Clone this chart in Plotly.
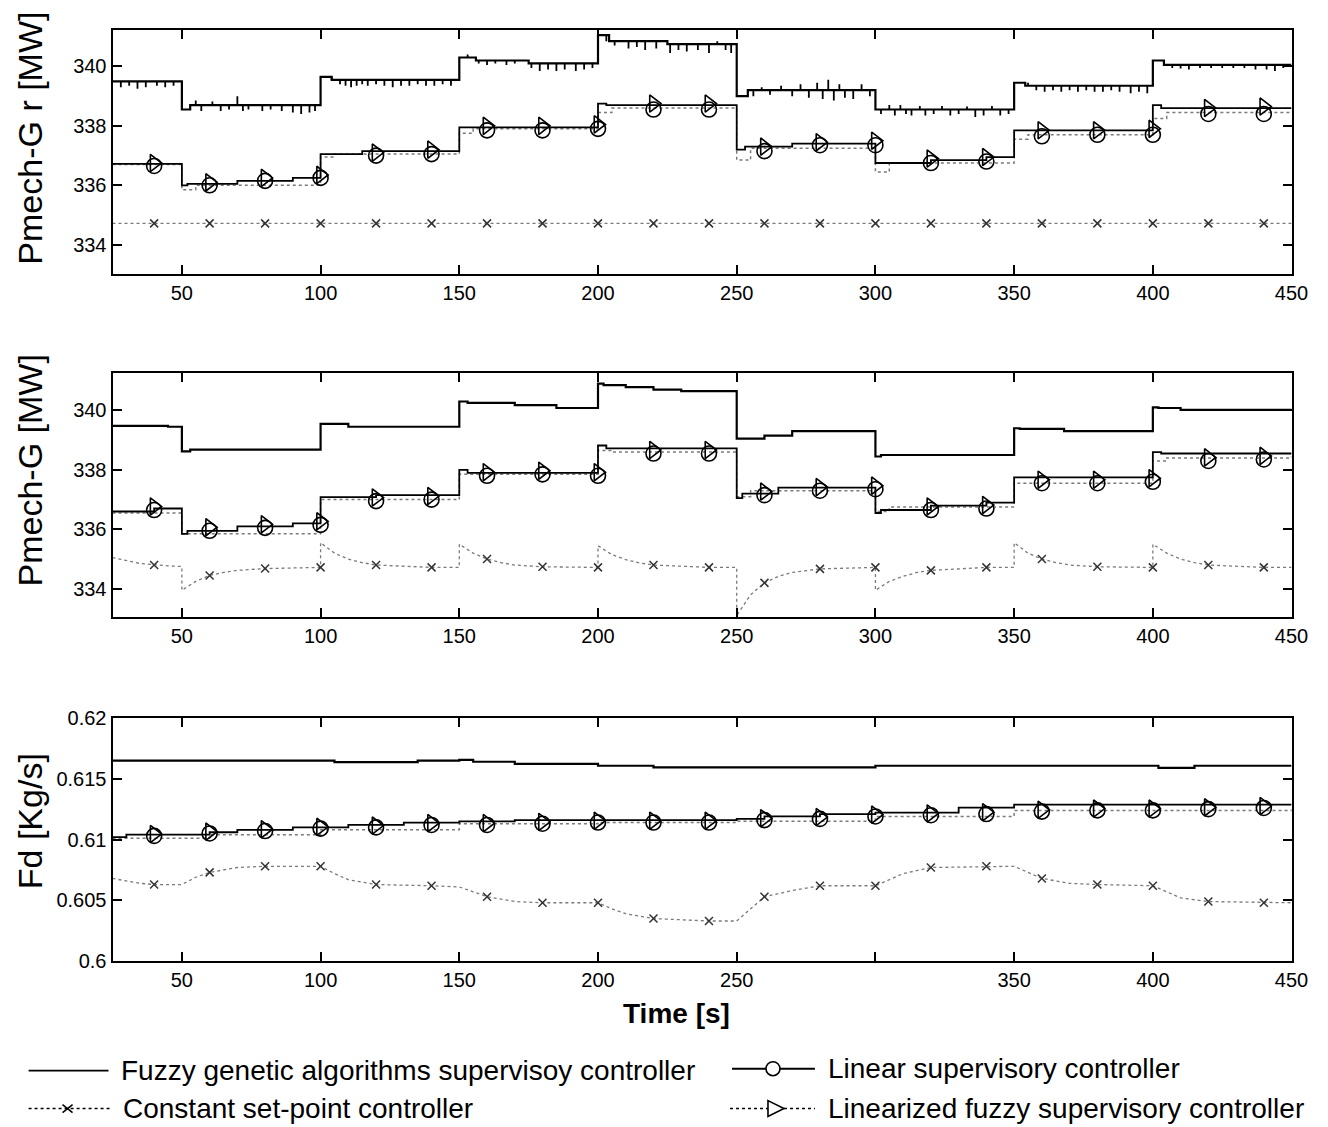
import plotly.graph_objects as go
import numpy as np

W, H = 1328, 1127
FONT = "Liberation Sans, Arial, sans-serif"

# ---------------- data ----------------
mk_t = [40, 60, 80, 100, 120, 140, 160, 180, 200, 220, 240, 260, 280, 300, 320, 340, 360, 380, 400, 420, 440]

# Panel 1: Pmech-G r
p1_ga_t = [25, 50, 53, 100, 104, 150, 156, 175, 200, 204, 225, 250, 254, 300, 350, 354, 400, 404, 450]
p1_ga_v = [339.5, 338.55, 338.7, 339.65, 339.55, 340.3, 340.2, 340.1, 341.05, 340.85, 340.75, 339.0, 339.2,
           338.55, 339.45, 339.35, 340.2, 340.05, 340.05]
p1_spk_t = [28, 31, 34, 37, 41, 44, 47,
            55, 57, 61, 64, 67, 70, 72, 74, 79, 82, 86, 90, 93, 96, 98,
            104, 107, 109, 111, 113, 115, 117, 120, 123, 126, 129, 132, 135, 138, 141, 144, 147,
            153, 157, 160, 163, 167, 170, 176, 179, 182, 185, 188, 192, 195, 198,
            203, 206, 211, 214, 217, 221, 226, 229, 232, 236, 240, 243, 246, 248,
            256, 259, 262, 266, 270, 273, 276, 279, 281, 283, 285, 287, 289, 292, 295, 298,
            302, 305, 307, 309, 311, 313, 316, 318, 321, 324, 327, 330, 333, 336, 339, 342, 345, 348,
            355, 358, 361, 364, 367, 370, 373, 376, 379, 382, 385, 388, 392, 395, 398,
            407, 410, 413, 417, 421, 425, 429, 433, 437, 441, 444, 447]
p1_spk_d = [-0.2, -0.15, -0.25, -0.2, -0.15, -0.2, -0.15,
            0.15, -0.2, 0.12, -0.2, -0.15, 0.3, -0.2, -0.15, -0.2, -0.15, -0.2, -0.25, -0.3, -0.25, -0.2,
            0.1, -0.15, -0.2, -0.25, -0.2, -0.15, -0.2, -0.15, -0.2, -0.25, -0.2, -0.2, -0.15, -0.2, -0.2, -0.15, -0.2,
            0.1, -0.1, -0.15, -0.1, -0.15, -0.1, -0.15, -0.25, -0.2, -0.25, -0.2, -0.25, -0.2, -0.15,
            -0.2, -0.15, -0.25, -0.2, -0.3, -0.25, -0.3, -0.2, -0.25, -0.2, -0.3, 0.1, -0.2, -0.3,
            -0.2, 0.1, -0.15, 0.15, -0.2, 0.2, -0.25, 0.25, -0.3, 0.35, -0.35, 0.2, -0.25, -0.3, 0.2, -0.2,
            -0.15, 0.15, -0.2, 0.15, -0.15, -0.2, 0.12, -0.2, -0.15, 0.12, -0.2, -0.15, 0.1, -0.25, -0.2, 0.12, -0.2, -0.15,
            0.1, -0.15, -0.2, -0.15, -0.2, -0.15, -0.2, -0.15, -0.2, -0.2, -0.15, -0.2, -0.25, -0.2, -0.25,
            -0.1, -0.12, -0.15, -0.1, -0.1, -0.1, -0.1, -0.1, -0.15, -0.15, -0.2, -0.1]
p1_lin_t = [25, 50, 52, 70, 90, 100, 115, 150, 200, 203, 250, 253, 270, 300, 320, 340, 350, 400, 403, 450]
p1_lin_v = [336.72, 336.0, 336.05, 336.15, 336.25, 337.05, 337.15, 337.95, 338.75, 338.7, 337.2, 337.3, 337.4,
            336.75, 336.85, 336.95, 337.85, 338.7, 338.6, 338.6]
p1_lz_t = [25, 50, 55, 100, 105, 150, 155, 200, 205, 250, 255, 300, 305, 350, 355, 400, 405, 450]
p1_lz_v = [336.7, 335.85, 336.0, 336.95, 337.05, 337.75, 337.9, 338.45, 338.6, 336.85, 337.25, 336.45, 336.75,
           337.55, 337.7, 338.25, 338.45, 338.45]
p1_lin_mk = [336.65, 336.0, 336.15, 336.25, 337.0, 337.05, 337.85, 337.85, 337.9, 338.55, 338.55, 337.15, 337.35,
             337.35, 336.75, 336.8, 337.65, 337.7, 337.7, 338.4, 338.4]
p1_lz_mk = [336.75, 336.1, 336.25, 336.35, 337.1, 337.2, 338.0, 338.0, 338.05, 338.75, 338.75, 337.3, 337.45,
            337.5, 336.9, 336.95, 337.85, 337.85, 337.9, 338.6, 338.65]
p1_cst_t = [25, 450]
p1_cst_v = [334.72, 334.72]
p1_cst_mk = [334.72] * 21

# Panel 2: Pmech-G
p2_ga_t = [25, 45, 50, 53, 100, 110, 150, 153, 170, 185, 200, 202, 210, 220, 230, 250, 260, 270, 300, 302,
           350, 352, 368, 400, 402, 410, 450]
p2_ga_v = [339.48, 339.45, 338.62, 338.68, 339.55, 339.45, 340.3, 340.25, 340.18, 340.08, 340.9, 340.85, 340.78,
           340.7, 340.65, 339.05, 339.15, 339.3, 338.45, 338.5, 339.4, 339.38, 339.3, 340.1, 340.08, 340.02, 340.0]
p2_lin_t = [25, 40, 50, 52, 70, 90, 100, 120, 150, 153, 200, 203, 250, 252, 265, 300, 302, 320, 340, 350,
            400, 403, 450]
p2_lin_v = [336.6, 336.7, 335.85, 335.95, 336.1, 336.2, 337.08, 337.15, 338.0, 337.9, 338.82, 338.72, 337.05,
            337.2, 337.4, 336.55, 336.65, 336.8, 336.9, 337.75, 338.6, 338.55, 338.55]
p2_lz_t = [25, 50, 100, 150, 200, 205, 250, 255, 300, 305, 350, 400, 405, 450]
p2_lz_v = [336.55, 335.85, 337.0, 337.85, 338.65, 338.6, 337.1, 337.3, 336.6, 336.75, 337.55, 338.3, 338.4, 338.45]
p2_lin_mk = [336.65, 335.95, 336.05, 336.15, 336.95, 337.0, 337.8, 337.85, 337.8, 338.55, 338.55, 337.15, 337.3,
             337.35, 336.65, 336.7, 337.55, 337.55, 337.6, 338.3, 338.35]
p2_lz_mk = [336.77, 336.07, 336.17, 336.27, 337.07, 337.12, 337.92, 337.97, 337.92, 338.67, 338.67, 337.27, 337.42,
            337.47, 336.77, 336.82, 337.67, 337.67, 337.72, 338.42, 338.47]
p2_cst_t = [25, 35, 45, 50, 50, 55, 60, 65, 70, 80, 90, 100, 100, 105, 110, 115, 120, 130, 140, 150, 150, 155,
            160, 165, 170, 180, 190, 200, 200, 205, 210, 215, 220, 230, 240, 250, 250, 255, 260, 265, 270, 280,
            290, 300, 300, 305, 310, 315, 320, 330, 340, 350, 350, 355, 360, 365, 370, 380, 390, 400, 400, 405,
            410, 415, 420, 430, 440, 450]
p2_cst_v = [335.05, 334.85, 334.77, 334.75, 333.95, 334.25, 334.45, 334.55, 334.62, 334.68, 334.7, 334.72,
            335.55, 335.2, 335.0, 334.88, 334.8, 334.75, 334.72, 334.72, 335.5, 335.2, 335.0, 334.88, 334.8,
            334.74, 334.72, 334.72, 335.45, 335.15, 334.98, 334.87, 334.8, 334.75, 334.72, 334.72, 333.1, 333.8,
            334.2, 334.42, 334.55, 334.67, 334.7, 334.72, 333.95, 334.25, 334.42, 334.55, 334.62, 334.68, 334.72,
            334.72, 335.55, 335.2, 335.0, 334.88, 334.8, 334.74, 334.72, 334.72, 335.5, 335.2, 335.0, 334.88,
            334.8, 334.75, 334.72, 334.72]
p2_cst_mk = [334.8, 334.45, 334.68, 334.72, 334.8, 334.72, 335.0, 334.74, 334.72, 334.8, 334.72, 334.2, 334.67,
             334.72, 334.62, 334.72, 335.0, 334.74, 334.72, 334.8, 334.72]

# Panel 3: Fd
p3_ga_t = [25, 105, 135, 150, 155, 170, 200, 220, 300, 402, 415, 450]
p3_ga_v = [0.6165, 0.61637, 0.6165, 0.61656, 0.6164, 0.61623, 0.61607, 0.61593, 0.61607, 0.6159, 0.61607, 0.61607]
p3_lin_t = [25, 30, 60, 70, 90, 110, 130, 150, 170, 200, 250, 260, 280, 300, 330, 350, 450]
p3_lin_v = [0.6102, 0.6104, 0.6106, 0.6108, 0.6110, 0.6112, 0.6114, 0.6115, 0.6116, 0.6116, 0.6117, 0.6119,
            0.6121, 0.61221, 0.61262, 0.61287, 0.61287]
p3_lz_t = [25, 60, 100, 150, 200, 250, 300, 350, 450]
p3_lz_v = [0.6101, 0.6104, 0.6108, 0.6113, 0.6114, 0.6115, 0.6119, 0.6124, 0.6125]
p3_lin_mk = [0.6103, 0.6105, 0.6107, 0.6109, 0.6110, 0.6112, 0.6112, 0.6113, 0.6114, 0.6114, 0.6114, 0.6116,
             0.6117, 0.6119, 0.6120, 0.6121, 0.6123, 0.6124, 0.6124, 0.6125, 0.6126]
p3_lz_mk = [0.61045, 0.61065, 0.61085, 0.61105, 0.61115, 0.61135, 0.61135, 0.61145, 0.61155, 0.61155, 0.61155,
            0.61175, 0.61185, 0.61205, 0.61215, 0.61225, 0.61245, 0.61255, 0.61255, 0.61265, 0.61275]
p3_cst_t = [25, 35, 40, 50, 55, 60, 70, 80, 100, 105, 110, 120, 140, 150, 155, 160, 170, 180, 200, 205, 210, 220,
            240, 250, 255, 260, 270, 280, 300, 305, 310, 320, 340, 350, 355, 360, 370, 380, 400, 405, 410, 420,
            440, 450]
p3_cst_v = [0.6068, 0.6064, 0.6063, 0.6063, 0.6069, 0.6073, 0.6077, 0.6078, 0.6078, 0.6072, 0.6067, 0.6063,
            0.6062, 0.6061, 0.6057, 0.6053, 0.6049, 0.6048, 0.6048, 0.6043, 0.6039, 0.6035, 0.6033, 0.6033,
            0.6043, 0.6053, 0.6058, 0.6062, 0.6062, 0.6067, 0.6072, 0.6077, 0.6078, 0.6078, 0.6073, 0.6068,
            0.6064, 0.6063, 0.6062, 0.6057, 0.6052, 0.6049, 0.6048, 0.6048]
p3_cst_mk = [0.6063, 0.6073, 0.6078, 0.6078, 0.6063, 0.6062, 0.6053, 0.6048, 0.6048, 0.6035, 0.6033, 0.6053,
             0.6062, 0.6062, 0.6077, 0.6078, 0.6068, 0.6063, 0.6062, 0.6049, 0.6048]

x_ticks = [50, 100, 150, 200, 250, 300, 350, 400, 450]
x_ticktext_p3 = ["50", "100", "150", "200", "250", "", "350", "400", "450"]
y_ticks_p12 = [334, 336, 338, 340]
y_ticks_p3 = [0.6, 0.605, 0.61, 0.615, 0.62]

y_titles = ["Pmech-G r [MW]", "Pmech-G [MW]", "Fd [Kg/s]"]
legend_labels = ["Fuzzy genetic algorithms supervisoy controller", "Constant set-point controller",
                 "Linear supervisory controller", "Linearized fuzzy supervisory controller"]

# ---------------- figure ----------------
fig = go.Figure()

GRAY = "#7a7a7a"
BLK = "black"
XMK = "#333333"


def add_panel(k, ga_t, ga_v, lin_t, lin_v, lz_t, lz_v, lin_mk, lz_mk, cst_t, cst_v, cst_mk):
    xa = "x" if k == 1 else f"x{k}"
    ya = "y" if k == 1 else f"y{k}"
    common = dict(xaxis=xa, yaxis=ya, showlegend=False, hoverinfo="skip")
    fig.add_trace(go.Scatter(x=cst_t, y=cst_v, mode="lines", line=dict(color=GRAY, width=1.3, dash="dot"), **common))
    fig.add_trace(go.Scatter(x=lz_t, y=lz_v, mode="lines", line=dict(color=GRAY, width=1.5, dash="dot", shape="hv"), **common))
    fig.add_trace(go.Scatter(x=lin_t, y=lin_v, mode="lines", line=dict(color=BLK, width=1.8, shape="hv"), **common))
    fig.add_trace(go.Scatter(x=ga_t, y=ga_v, mode="lines", line=dict(color=BLK, width=2.2, shape="hv"), **common))
    fig.add_trace(go.Scatter(x=mk_t, y=cst_mk, mode="markers",
                             marker=dict(symbol="x-thin-open", size=8, color=XMK, line=dict(color=XMK, width=1.5)), **common))
    fig.add_trace(go.Scatter(x=mk_t, y=lin_mk, mode="markers",
                             marker=dict(symbol="circle-open", size=15, color=BLK, line=dict(color=BLK, width=1.6)), **common))
    fig.add_trace(go.Scatter(x=mk_t, y=lz_mk, mode="markers",
                             marker=dict(symbol="triangle-right-open", size=15, color=BLK, line=dict(color=BLK, width=1.6)), **common))


add_panel(1, p1_ga_t, p1_ga_v, p1_lin_t, p1_lin_v, p1_lz_t, p1_lz_v, p1_lin_mk, p1_lz_mk, p1_cst_t, p1_cst_v, p1_cst_mk)

# noise spikes on the top GA curve
ga_t_arr = np.array(p1_ga_t, dtype=float)
sx, sy = [], []
for t, d in zip(p1_spk_t, p1_spk_d):
    lvl = p1_ga_v[int(np.searchsorted(ga_t_arr, t, side="right") - 1)]
    sx += [t, t, None]
    sy += [lvl, lvl + d, None]
fig.add_trace(go.Scatter(x=sx, y=sy, mode="lines", line=dict(color=BLK, width=1.8),
                         xaxis="x", yaxis="y", showlegend=False, hoverinfo="skip"))

add_panel(2, p2_ga_t, p2_ga_v, p2_lin_t, p2_lin_v, p2_lz_t, p2_lz_v, p2_lin_mk, p2_lz_mk, p2_cst_t, p2_cst_v, p2_cst_mk)
add_panel(3, p3_ga_t, p3_ga_v, p3_lin_t, p3_lin_v, p3_lz_t, p3_lz_v, p3_lin_mk, p3_lz_mk, p3_cst_t, p3_cst_v, p3_cst_mk)

# ---------------- layout ----------------
# the rendered page places the figure with a small offset/scale; compensate so that
# screen positions match the reference
OX, SX = 7.4, 0.988
OY, SY = 16.5, 0.984


def px_x(p):
    return ((p - OX) / SX) / W


def px_y(p):
    return 1 - ((p - OY) / SY) / H


xdom = [px_x(112), px_x(1292)]
ydoms = [[px_y(272), px_y(28)], [px_y(617), px_y(372)], [px_y(962), px_y(718)]]
yranges = [[333.03, 341.21], [333.04, 341.25], [0.6, 0.62]]

axis_common = dict(showline=True, linecolor="black", linewidth=2, mirror="ticks", ticks="inside",
                   ticklen=9, tickwidth=1.5, tickcolor="black", showgrid=False, zeroline=False,
                   tickfont=dict(family=FONT, size=20, color="black"), fixedrange=True)

layout = dict(width=W, height=H, margin=dict(l=0, r=0, t=0, b=0), paper_bgcolor="white",
              plot_bgcolor="white", showlegend=False)
for k in range(1, 4):
    xk = "xaxis" if k == 1 else f"xaxis{k}"
    yk = "yaxis" if k == 1 else f"yaxis{k}"
    ya = "y" if k == 1 else f"y{k}"
    xa = "x" if k == 1 else f"x{k}"
    layout[xk] = dict(domain=xdom, range=[25, 450], anchor=ya, tickmode="array", tickvals=x_ticks,
                      ticktext=x_ticktext_p3 if k == 3 else [str(v) for v in x_ticks], **axis_common)
    layout[yk] = dict(domain=ydoms[k - 1], range=yranges[k - 1], anchor=xa, tickmode="array",
                      tickvals=y_ticks_p3 if k == 3 else y_ticks_p12,
                      ticktext=[f"{v:g}" for v in (y_ticks_p3 if k == 3 else y_ticks_p12)], **axis_common)
fig.update_layout(**layout)

annotations = []
title_centers = [136, 470, 822]
for txt, yc in zip(y_titles, title_centers):
    annotations.append(dict(text=txt, x=px_x(29), y=px_y(yc), xref="paper", yref="paper", showarrow=False,
                            textangle=-90, font=dict(family=FONT, size=34, color="black"),
                            xanchor="center", yanchor="middle"))
annotations.append(dict(text="<b>Time [s]</b>", x=px_x(676), y=px_y(1015), xref="paper", yref="paper",
                        showarrow=False, font=dict(family=FONT, size=28, color="black"),
                        xanchor="center", yanchor="middle"))

# legend (drawn manually)
leg_rows = [(118, 1072), (120, 1110), (826, 1070), (826, 1110)]
for lab, (tx, ty) in zip(legend_labels, leg_rows):
    annotations.append(dict(text=lab, x=px_x(tx), y=px_y(ty), xref="paper", yref="paper", showarrow=False,
                            font=dict(family=FONT, size=28, color="black"), xanchor="left", yanchor="middle"))
fig.update_layout(annotations=annotations)

shapes = []
shapes.append(dict(type="line", xref="paper", yref="paper", x0=px_x(28), x1=px_x(108), y0=px_y(1072), y1=px_y(1072),
                   line=dict(color="black", width=1.8)))
shapes.append(dict(type="line", xref="paper", yref="paper", x0=px_x(28), x1=px_x(112), y0=px_y(1110), y1=px_y(1110),
                   line=dict(color="black", width=1.5, dash="dot")))
for dx, dy in [(-5, -4), (-5, 4)]:
    shapes.append(dict(type="line", xref="paper", yref="paper", x0=px_x(67 + dx), x1=px_x(67 - dx),
                       y0=px_y(1110 + dy), y1=px_y(1110 - dy), line=dict(color="black", width=1.5)))
shapes.append(dict(type="line", xref="paper", yref="paper", x0=px_x(732), x1=px_x(815), y0=px_y(1070), y1=px_y(1070),
                   line=dict(color="black", width=1.8)))
shapes.append(dict(type="circle", xref="paper", yref="paper", x0=px_x(766), x1=px_x(780), y0=px_y(1077), y1=px_y(1063),
                   line=dict(color="black", width=1.6), fillcolor="white"))
shapes.append(dict(type="line", xref="paper", yref="paper", x0=px_x(730), x1=px_x(815), y0=px_y(1110), y1=px_y(1110),
                   line=dict(color="black", width=1.5, dash="dot")))
shapes.append(dict(type="path", xref="paper", yref="paper",
                   path=f"M {px_x(768)} {px_y(1102)} L {px_x(784)} {px_y(1110)} L {px_x(768)} {px_y(1118)} Z",
                   line=dict(color="black", width=1.6), fillcolor="white"))
fig.update_layout(shapes=shapes)

fig.write_html("out.html")
